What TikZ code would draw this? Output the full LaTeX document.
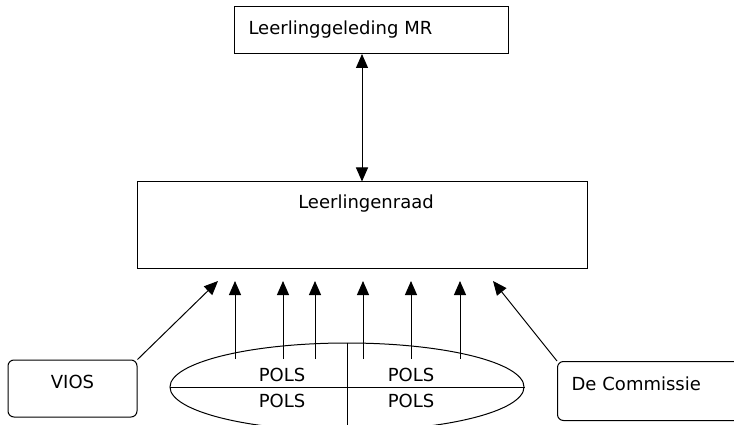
\documentclass[tikz,border=0pt]{standalone}
\usepackage{fontspec}
\setmainfont{DejaVu Sans}
\usetikzlibrary{arrows.meta,positioning,shapes.geometric}

\begin{document}
\begin{tikzpicture}[x=1pt,y=-1pt,every node/.style={font=\fontsize{18}{20}\selectfont},
  hok/.style={draw,line width=1pt,inner sep=0pt},
  pijl/.style={line width=1pt,-{Triangle[length=14pt,width=12pt]}},
  dubbel/.style={line width=1pt,{Triangle[length=14pt,width=12pt]}-{Triangle[length=14pt,width=12pt]}}]
  \useasboundingbox (0,0) rectangle (734,425);

  \node[hok,anchor=north west,text width=246pt,inner xsep=14pt,minimum height=47pt] (mr) at (234,6) {Leerlinggeleding MR};
  \node[hok,minimum width=450pt,minimum height=86pt] (raad) at (362,225) {};
  \node[below=10pt of raad.north,xshift=4pt] (raadtekst) {Leerlingenraad};
  \draw[dubbel] (raad.north) -- (raad.north |- mr.south);

  \node[hok,rounded corners=6pt,minimum width=129pt,minimum height=57pt,text depth=14pt] (vios) at (72.5,388.5) {VIOS};
  \node[hok,rounded corners=6pt,anchor=north west,text width=160pt,inner xsep=14pt,minimum height=59pt,text depth=14pt] (com) at (557,361) {De Commissie};

  % de POLS-ellips
  \node[hok,ellipse,minimum width=354pt,minimum height=88pt] (pols) at (347,387) {};
  \draw[line width=1pt] (pols.west) -- (pols.east);
  \draw[line width=1pt] (pols.north) -- (pols.south);
  \node (pols1) at (282,375) {POLS};
  \node (pols2) at (411,375) {POLS};
  \node (pols3) at (282,401) {POLS};
  \node (pols4) at (411,401) {POLS};

  \foreach \x [count=\i] in {235,283,315,363,411,460} {
    \coordinate (van\i) at (\x,359);
    \coordinate (naar\i) at (\x,281);
    \draw[pijl] (van\i) -- (naar\i);
  }
  \coordinate (viosnaar) at (218,281);
  \coordinate (comnaar) at (493,281);
  \draw[pijl] (vios.north east) -- (viosnaar);
  \draw[pijl] (com.north west) -- (comnaar);
\end{tikzpicture}
\end{document}
